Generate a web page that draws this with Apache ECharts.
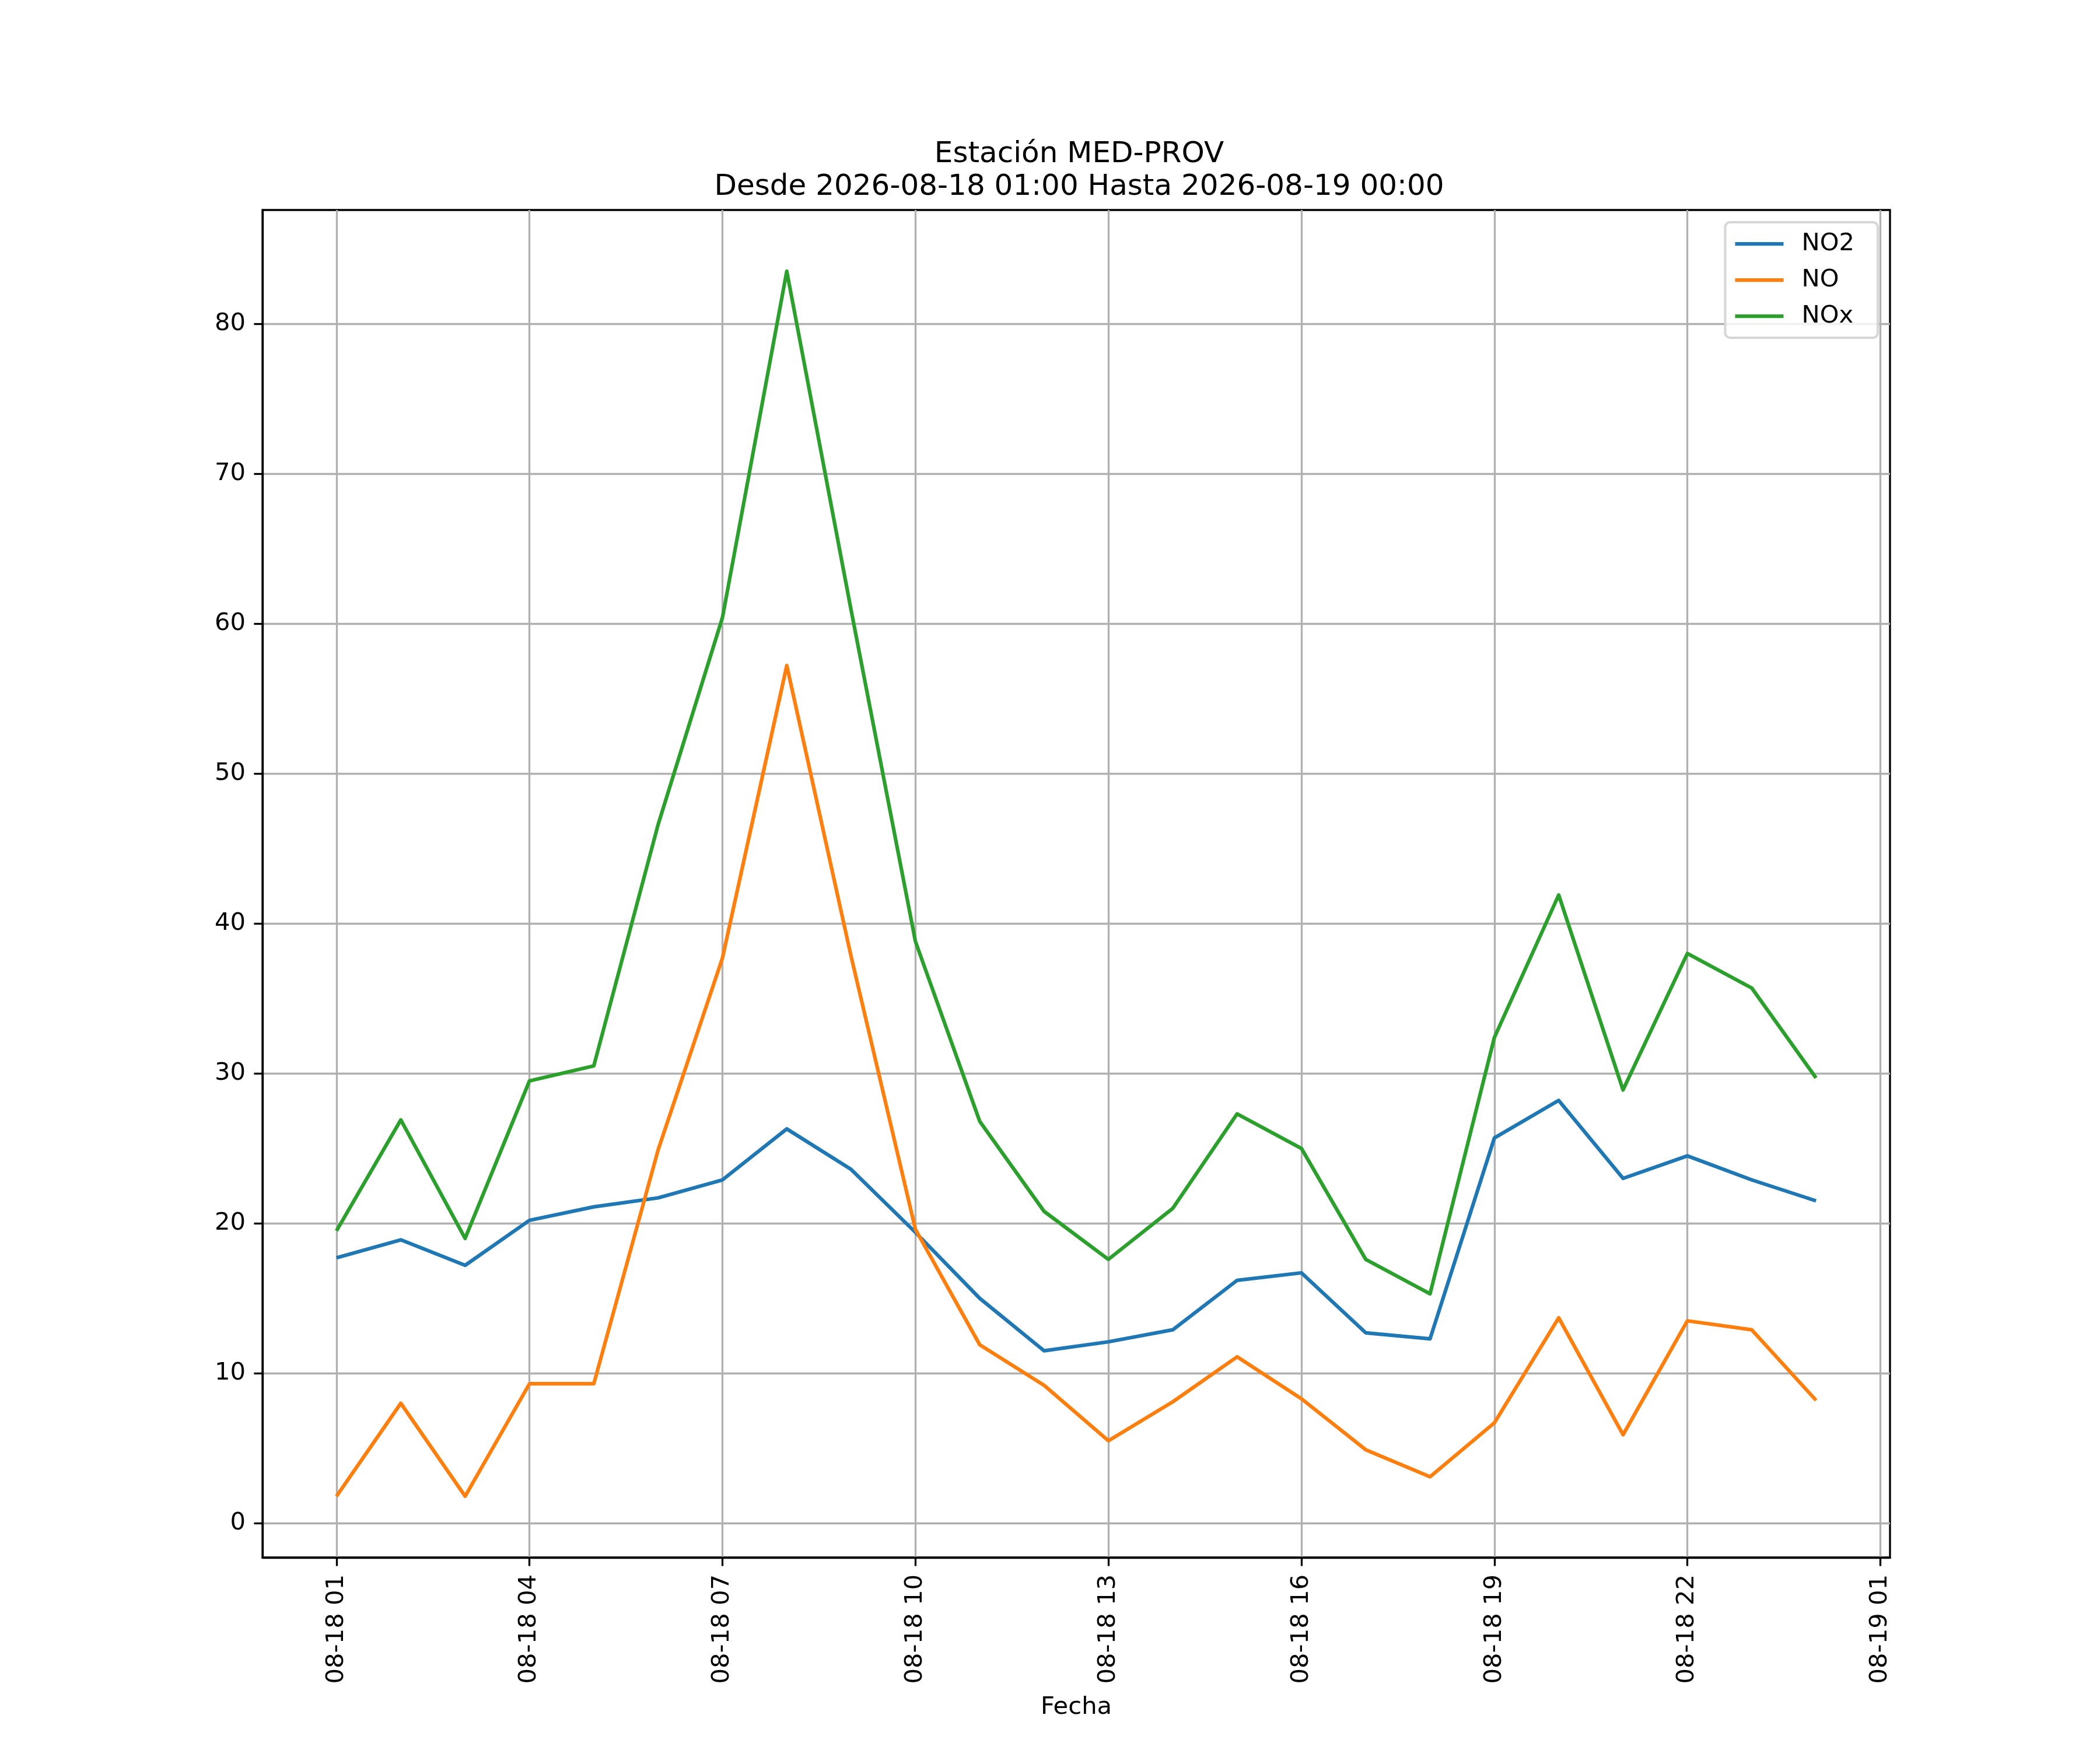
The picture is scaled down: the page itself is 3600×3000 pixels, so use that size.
<!DOCTYPE html>
<html>
<head>
<meta charset="utf-8">
<script src="https://cdn.jsdelivr.net/npm/echarts@6/dist/echarts.min.js"></script>
<style>
html, body { margin: 0; padding: 0; background: #fff; }
#chart { width: 3600px; height: 3000px; }
</style>
</head>
<body>
<div id="chart"></div>
<script>
// horas de la estacion (01:00 del 18 hasta 00:00 del 19)
var horas = ['2026-08-18 01:00', '2026-08-18 02:00', '2026-08-18 03:00', '2026-08-18 04:00',
	'2026-08-18 05:00', '2026-08-18 06:00', '2026-08-18 07:00', '2026-08-18 08:00',
	'2026-08-18 09:00', '2026-08-18 10:00', '2026-08-18 11:00', '2026-08-18 12:00',
	'2026-08-18 13:00', '2026-08-18 14:00', '2026-08-18 15:00', '2026-08-18 16:00',
	'2026-08-18 17:00', '2026-08-18 18:00', '2026-08-18 19:00', '2026-08-18 20:00',
	'2026-08-18 21:00', '2026-08-18 22:00', '2026-08-18 23:00', '2026-08-19 00:00'];

var no2 = [17.7, 18.9, 17.2, 20.2, 21.1, 21.7, 22.9, 26.3, 23.6, 19.4, 15.0, 11.5,
	12.1, 12.9, 16.2, 16.7, 12.7, 12.3, 25.7, 28.2, 23.0, 24.5, 22.9, 21.5];
var no = [1.8, 8.0, 1.8, 9.3, 9.3, 24.9, 37.7, 57.2, 37.8, 19.6, 11.9, 9.2,
	5.5, 8.1, 11.1, 8.3, 4.9, 3.1, 6.7, 13.7, 5.9, 13.5, 12.9, 8.2];
var nox = [19.5, 26.9, 19.0, 29.5, 30.5, 46.6, 60.4, 83.5, 60.9, 38.8, 26.8, 20.8,
	17.6, 21.0, 27.3, 25.0, 17.6, 15.3, 32.4, 41.9, 28.9, 38.0, 35.7, 29.7];

// marcas del eje x (cada 3 horas) y del eje y
var ticksX = ['2026-08-18 01:00', '2026-08-18 04:00', '2026-08-18 07:00', '2026-08-18 10:00',
	'2026-08-18 13:00', '2026-08-18 16:00', '2026-08-18 19:00', '2026-08-18 22:00',
	'2026-08-19 01:00'];
var ticksY = [0, 10, 20, 30, 40, 50, 60, 70, 80];

var fuente = 'DejaVu Sans';
var H = 3600 * 1000;

function toTime(s) {
	var p = s.split(/[- :]/);
	return Date.UTC(+p[0], +p[1] - 1, +p[2], +p[3], +p[4]);
}

var t0 = toTime(horas[0]);
// el eje x va en horas desde la primera medida
function toHora(s) { return (toTime(s) - t0) / H; }

var hFin = toHora(horas[horas.length - 1]);
var mx = hFin * 0.05; // margen como matplotlib

var todos = no2.concat(no, nox);
var ymin = Math.min.apply(null, todos);
var ymax = Math.max.apply(null, todos);
var my = (ymax - ymin) * 0.05;

var etiquetas = {};
ticksX.forEach(function(s) {
	etiquetas[toHora(s)] = s.substr(5, 5) + ' ' + s.substr(11, 2);
});

function serie(nombre, valores, color) {
	var d = [];
	for (var i = 0; i < horas.length; i++) {
		d.push([toHora(horas[i]), valores[i]]);
	}
	return {
		name: nombre,
		type: 'line',
		data: d,
		symbol: 'none',
		animation: false,
		lineStyle: { color: color, width: 6.25, join: 'round' },
		itemStyle: { color: color }
	};
}

var myChart = echarts.init(document.getElementById('chart'));
myChart.setOption({
	backgroundColor: '#ffffff',
	animation: false,
	title: {
		text: 'Estación MED-PROV\nDesde 2026-08-18 01:00 Hasta 2026-08-19 00:00',
		left: 1845,
		top: 232,
		textAlign: 'center',
		textStyle: { fontFamily: fuente, fontSize: 50, fontWeight: 'normal', color: '#000', lineHeight: 56 }
	},
	legend: {
		right: 381,
		top: 381,
		orient: 'vertical',
		icon: 'rect',
		itemWidth: 83,
		itemHeight: 6.25,
		itemGap: 20,
		padding: [16, 40, 16, 17],
		backgroundColor: 'rgba(255,255,255,0.8)',
		borderColor: '#d6d6d6',
		borderWidth: 4,
		borderRadius: 8,
		textStyle: { fontFamily: fuente, fontSize: 41.7, color: '#000', padding: [0, 0, 0, 26], lineHeight: 42 },
		data: ['NO2', 'NO', 'NOx']
	},
	grid: {
		left: 450, right: 360, top: 360, bottom: 330,
		show: true, borderColor: '#000', borderWidth: 3.3
	},
	xAxis: {
		type: 'value',
		min: -mx,
		max: hFin + mx,
		name: 'Fecha',
		nameLocation: 'middle',
		nameGap: 236,
		nameTextStyle: { fontFamily: fuente, fontSize: 41.7, color: '#000' },
		axisLine: { onZero: false, lineStyle: { color: '#000', width: 3.3 } },
		axisTick: { show: true, length: 14.6, lineStyle: { color: '#000', width: 3.3 }, customValues: ticksX.map(toHora) },
		axisLabel: {
			customValues: ticksX.map(toHora),
			rotate: 90,
			margin: 29,
			hideOverlap: false,
			fontFamily: fuente, fontSize: 41.7, color: '#000',
			formatter: function(v) {
				return etiquetas[v] || '';
			}
		},
		splitLine: { show: true, lineStyle: { color: '#b0b0b0', width: 3.3 } }
	},
	yAxis: {
		type: 'value',
		min: ymin - my,
		max: ymax + my,
		axisLine: { show: true, onZero: false, lineStyle: { color: '#000', width: 3.3 } },
		axisTick: { show: true, length: 14.6, lineStyle: { color: '#000', width: 3.3 }, customValues: ticksY },
		axisLabel: { customValues: ticksY, margin: 29, fontFamily: fuente, fontSize: 41.7, color: '#000' },
		splitLine: { show: true, lineStyle: { color: '#b0b0b0', width: 3.3 } }
	},
	series: [
		serie('NO2', no2, '#1f77b4'),
		serie('NO', no, '#ff7f0e'),
		serie('NOx', nox, '#2ca02c')
	]
});
</script>
</body>
</html>
